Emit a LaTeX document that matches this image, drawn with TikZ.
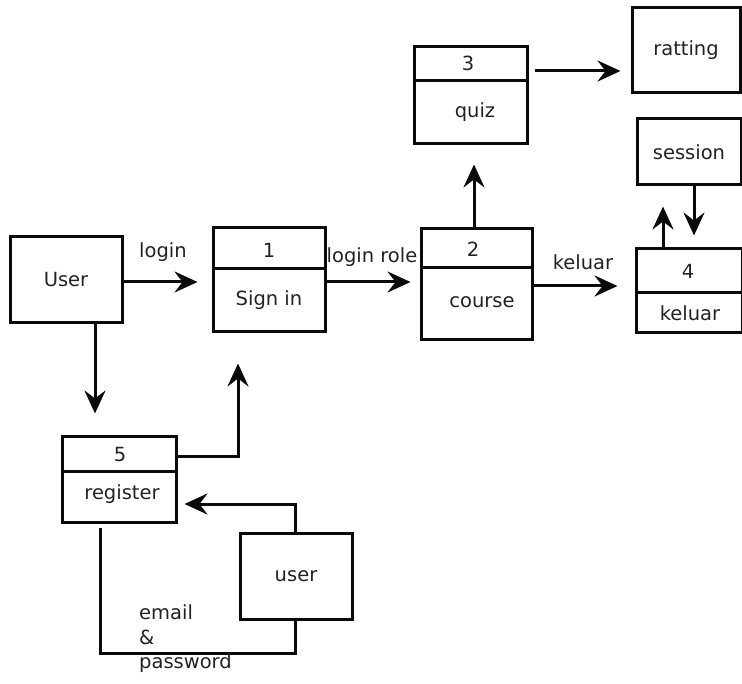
\documentclass[tikz,border=0pt]{standalone}
\usepackage{fontspec}
\setmainfont{DejaVu Sans}
\usetikzlibrary{arrows.meta,calc}
\definecolor{ink}{HTML}{0A0A0A}
\definecolor{txt}{HTML}{222222}
\tikzset{
  box/.style={draw=ink, line width=3pt, minimum width=#1, inner sep=0pt},
  lbl/.style={text=txt, font=\fontsize{19.5}{22}\selectfont, inner sep=0pt},
  conn/.style={draw=ink, line width=3pt},
  arr/.style={conn, -{Stealth[length=23pt,width=21pt,inset=8pt]}},
}
\begin{document}
\begin{tikzpicture}[x=1pt,y=-1pt]
\useasboundingbox (0,0) rectangle (742,684);
% plain boxes
\node[box=112pt, minimum height=86pt] (user) at (66,280) {};
\node[lbl] at (user) {User};
\node[box=108pt, minimum height=85pt] (ratting) at (686,50.5) {};
\node[lbl] at (ratting) {ratting};
\node[box=104pt, minimum height=66pt] (session) at (689,152) {};
\node[lbl] at (session) {session};
\node[box=112pt, minimum height=86pt] (user2) at (296,576) {};
\node[lbl] at (user2) {user};
% process boxes
\node[box=112pt, minimum height=104pt] (signin) at (269,280) {};
\draw[conn] (signin.west |- 0,269) -- (signin.east |- 0,269);
\node[lbl] (signinnum) at (269,250) {1};
\node[lbl] (signintxt) at (269,300) {Sign in};
\node[box=111pt, minimum height=111pt] (course) at (476.5,284.5) {};
\draw[conn] (course.west |- 0,268) -- (course.east |- 0,268);
\node[lbl] (coursenum) at (473,249) {2};
\node[lbl] (coursetxt) at (482,302) {course};
\node[box=113pt, minimum height=97pt] (quiz) at (470.5,95.5) {};
\draw[conn] (quiz.west |- 0,81) -- (quiz.east |- 0,81);
\node[lbl] (quiznum) at (468,63) {3};
\node[lbl] (quiztxt) at (475,112) {quiz};
\node[box=106pt, minimum height=84pt] (kel) at (689,291) {};
\draw[conn] (kel.west |- 0,293) -- (kel.east |- 0,293);
\node[lbl] (kelnum) at (688,271) {4};
\node[lbl] (keltxt) at (690,313) {keluar};
\node[box=114pt, minimum height=85pt] (reg) at (119,479.5) {};
\draw[conn] (reg.west |- 0,472) -- (reg.east |- 0,472);
\node[lbl] (regnum) at (120,455) {5};
\node[lbl] (regtxt) at (122,494) {register};
% connectors
\draw[arr, shorten >=14pt] ([yshift=-2pt]user.east) -- ([yshift=-2pt]signin.west);
\node[lbl] at (163,252) {login};
\draw[arr, shorten >=9pt] ([yshift=-2pt]signin.east) -- ([yshift=-2pt]signin.east -| course.west);
\node[lbl] at (372,257) {login role};
\draw[arr, shorten >=17pt] ([yshift=-1.5pt]course.east) -- ([yshift=-1.5pt]course.east -| kel.west);
\node[lbl] at (583,262) {keluar};
\draw[arr, shorten >=19pt] ([xshift=-2.5pt]course.north) -- ([xshift=-2.5pt]course.north |- quiz.south);
\draw[arr, shorten >=10pt] ([xshift=6pt,yshift=24.5pt]quiz.east) -- ([yshift=24.5pt]quiz.east -| ratting.west);
\draw[arr, shorten >=20pt] ([xshift=-26pt]kel.north) -- ([xshift=-26pt]kel.north |- session.south);
\draw[arr, shorten >=12pt] ([xshift=5pt]session.south) -- ([xshift=5pt]session.south |- kel.north);
\draw[arr, shorten >=22pt] ([xshift=29pt]user.south) -- ([xshift=29pt]user.south |- reg.north);
\draw[arr, shorten >=30pt] ([yshift=22.5pt]reg.east) -| ([xshift=-31pt]signin.south);
\draw[arr, shorten >=7pt] ([xshift=-1pt]user2.north) |- ([yshift=-24.5pt]reg.east);
\coordinate (ep) at (295,653);
\draw[conn] ([xshift=-19pt,yshift=-4pt]reg.south) |- (ep) -- (ep |- user2.south);
\node[lbl, anchor=west] at (139,612) {email};
\node[lbl, anchor=west] at (139,637) {\&};
\node[lbl, anchor=west] at (139,663) {password};
\end{tikzpicture}
\end{document}
